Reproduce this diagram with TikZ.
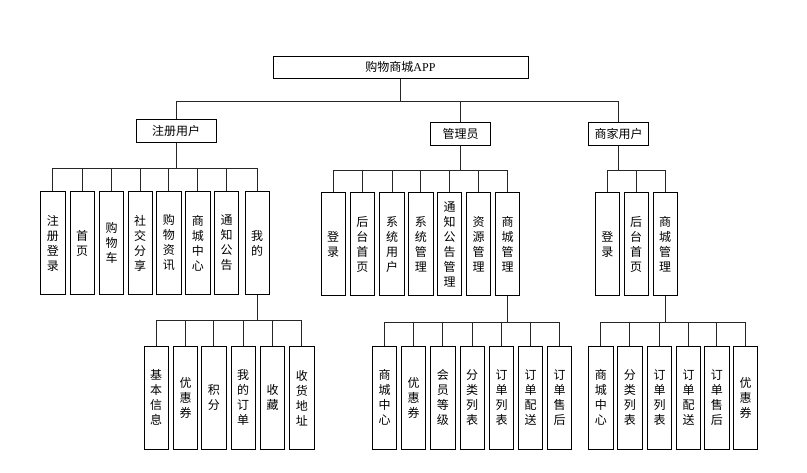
\documentclass[tikz,border=0pt]{standalone}
\usepackage{fontspec}
\newfontfamily\cjk{Noto Sans CJK SC}
\newfontfamily\latinserif{Liberation Serif}
\begin{document}
\begin{tikzpicture}[x=1pt,y=-1pt,
  box/.style={draw=black,line width=0.8pt,rectangle,inner sep=0pt,font={\cjk\fontsize{12}{15}\selectfont},align=center},
  vbox/.style={box,minimum width=24.3pt,minimum height=103pt},
  conn/.style={draw=black!85,line width=0.8pt}]
\useasboundingbox (0,0) rectangle (807,472);
\fill[white] (0,0) rectangle (807,472);

\node[box,minimum width=255pt,minimum height=22.5pt] (root) at (400.5,67.3) {购物商城{\latinserif APP}};
\node[box,minimum width=80pt,minimum height=23pt] (reg) at (176,130.7) {注册用户};
\node[box,minimum width=59.6pt,minimum height=22.6pt] (adm) at (460.5,134) {管理员};
\node[box,minimum width=59.6pt,minimum height=22.6pt] (mer) at (618.5,134) {商家用户};

\coordinate (b0) at (0,101.7);
\foreach \c in {reg,adm,mer} \draw[conn] (root.south) -- (root.south |- b0) -| (\c.north);

% registered user children
\coordinate (b1) at (0,168.3);
\foreach \n/\x/\t in {r1/52.8/注\\册\\登\\录, r2/82.2/首\\页, r3/111.5/购\\物\\车, r4/140.2/社\\交\\分\\享, r5/168.8/购\\物\\资\\讯, r6/197.8/商\\城\\中\\心, r7/226.5/通\\知\\公\\告, r8/257.2/我\\的}{
  \node[vbox] (\n) at (\x,243) {\t};
  \draw[conn] (reg.south) -- (reg.south |- b1) -| (\n.north);
}

% admin children
\coordinate (b2) at (0,170);
\foreach \n/\x/\t in {a1/333.2/登\\录, a2/362.3/后\\台\\首\\页, a3/392/系\\统\\用\\户, a4/420.8/系\\统\\管\\理, a5/449.5/通\\知\\公\\告\\管\\理, a6/478.5/资\\源\\管\\理, a7/507.5/商\\城\\管\\理}{
  \node[vbox] (\n) at (\x,244.2) {\t};
  \draw[conn] (adm.south) -- (adm.south |- b2) -| (\n.north);
}

% merchant children
\foreach \n/\x/\t in {m1/607.3/登\\录, m2/636.2/后\\台\\首\\页, m3/665.2/商\\城\\管\\理}{
  \node[vbox] (\n) at (\x,244.2) {\t};
  \draw[conn] (mer.south) -- (mer.south |- b2) -| (\n.north);
}

% mine children
\coordinate (b3) at (0,320);
\foreach \n/\x/\t in {w1/156.2/基\\本\\信\\息, w2/185.5/优\\惠\\券, w3/213.8/积\\分, w4/243.2/我\\的\\订\\单, w5/272.5/收\\藏, w6/301.8/收\\货\\地\\址}{
  \node[vbox] (\n) at (\x,397.8) {\t};
  \draw[conn] (r8.south) -- (r8.south |- b3) -| (\n.north);
}

% admin mall children
\coordinate (b4) at (0,322);
\foreach \n/\x/\t in {s1/384.5/商\\城\\中\\心, s2/413.5/优\\惠\\券, s3/442.8/会\\员\\等\\级, s4/472.2/分\\类\\列\\表, s5/501.5/订\\单\\列\\表, s6/530.5/订\\单\\配\\送, s7/559.5/订\\单\\售\\后}{
  \node[vbox] (\n) at (\x,397.8) {\t};
  \draw[conn] (a7.south) -- (a7.south |- b4) -| (\n.north);
}

% merchant mall children
\foreach \n/\x/\t in {t1/600.8/商\\城\\中\\心, t2/629.8/分\\类\\列\\表, t3/659.5/订\\单\\列\\表, t4/688.5/订\\单\\配\\送, t5/716.8/订\\单\\售\\后, t6/745.5/优\\惠\\券}{
  \node[vbox] (\n) at (\x,397.8) {\t};
  \draw[conn] (m3.south) -- (m3.south |- b4) -| (\n.north);
}
\end{tikzpicture}
\end{document}
